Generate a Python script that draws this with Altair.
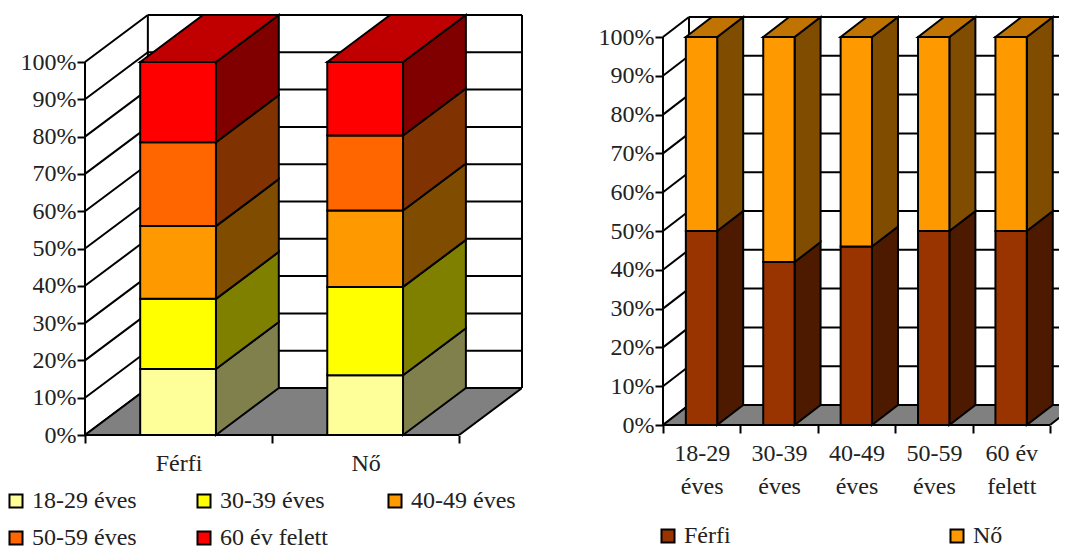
import json
import numpy as np
import pandas as pd
import altair as alt

FONT = "Liberation Serif"
TEXT = "#222222"
FS = 24

ticks_pct = [i / 10 for i in range(11)]

# left chart
left_cats = ["Férfi", "Nő"]
age_groups = ["18-29 éves", "30-39 éves", "40-49 éves", "50-59 éves", "60 év felett"]
ferfi_shares = [0.177, 0.188, 0.195, 0.225, 0.215]
no_shares = [0.16, 0.237, 0.205, 0.201, 0.197]
left_front = ["#FFFF99", "#FFFF00", "#FF9900", "#FF6600", "#FF0000"]
left_side = ["#80804D", "#808000", "#804D00", "#803300", "#800000"]
left_top = "#C00000"

# right chart
right_cats = ["18-29|éves", "30-39|éves", "40-49|éves", "50-59|éves", "60 év|felett"]
sex_groups = ["Férfi", "Nő"]
male_by_age = [0.50, 0.42, 0.46, 0.50, 0.50]
female_by_age = [0.50, 0.58, 0.54, 0.50, 0.50]
right_front = ["#993300", "#FF9900"]
right_side = ["#4D1A00", "#804D00"]
right_top = "#C07300"

STROKE = 2
GAP = 0.295
BAR = 0.405


def skew_rows(x0, x1, base, dx, dy, fid, fill):
    return [
        dict(x=x0, y=base, y2=base, fid=fid, shade=fill),
        dict(x=x0 + dx, y=base + dy, y2=base, fid=fid, shade=fill),
        dict(x=x1, y=base + dy, y2=base, fid=fid, shade=fill),
        dict(x=x1 + dx, y=base + dy, y2=base + dy, fid=fid, shade=fill),
    ]


def panel(cats, series, shares, front, side, top, dx, dy, xmax, width, height,
          ymax, right_wall, legend):
    xs = alt.Scale(domain=[0, xmax], nice=False, zero=False)
    ys = alt.Scale(domain=[0, ymax], nice=False, zero=False)
    n = len(cats)
    wall_end = min(n + dx, xmax)

    lines = []
    for t in ticks_pct:
        lines.append(dict(a=0, b=dx, c=t, d=t + dy))
        lines.append(dict(a=dx, b=wall_end, c=t + dy, d=t + dy))
    lines.append(dict(a=0, b=0, c=0, d=1))
    lines.append(dict(a=dx, b=dx, c=dy, d=1 + dy))
    if right_wall:
        lines.append(dict(a=n + dx, b=n + dx, c=dy, d=1 + dy))

    label_map = json.dumps(cats, ensure_ascii=False)
    axis_values = [i / 2 for i in range(2 * n + 1)]
    x_axis = alt.Axis(
        values=axis_values, title=None, domain=False, grid=False,
        labelExpr=f"datum.value % 1 == 0 ? '' : split({label_map}[floor(datum.value)], '|')",
        tickOpacity={"condition": {"test": "datum.value % 1 != 0", "value": 0}, "value": 1},
        tickSize=8, tickWidth=STROKE, tickColor="black",
        labelFont=FONT, labelFontSize=FS, labelColor=TEXT, labelPadding=8,
        labelOverlap=False, labelBound=False, labelFlush=False, labelLineHeight=33,
    )
    y_axis = alt.Axis(
        values=ticks_pct, format=".0%", title=None, domain=False, grid=False,
        tickSize=8, tickWidth=STROKE, tickColor="black",
        labelFont=FONT, labelFontSize=FS, labelColor=TEXT, labelPadding=1,
    )
    grid = alt.Chart(pd.DataFrame(lines)).mark_rule(color="black", strokeWidth=STROKE).encode(
        x=alt.X("a:Q", scale=xs, axis=x_axis),
        x2="b:Q",
        y=alt.Y("c:Q", scale=ys, axis=y_axis),
        y2="d:Q",
    )

    fronts, sides, tops = [], [], []
    floor = skew_rows(0, n, 0, dx, dy, "floor", "#808080")
    for i in range(n):
        x0 = i + GAP
        x1 = x0 + BAR
        lo = 0.0
        for j, name in enumerate(series):
            hi = lo + shares[j][i]
            fronts.append(dict(x0=x0, x1=x1, lo=lo, hi=hi, series=name))
            fid = f"s{i}-{j}"
            sides.append(dict(x=x1, y=lo, y2=hi, fid=fid, shade=side[j]))
            sides.append(dict(x=x1 + dx, y=lo + dy, y2=hi + dy, fid=fid, shade=side[j]))
            lo = hi
        tops += skew_rows(x0, x1, lo, dx, dy, f"t{i}", top)

    def area_layer(rows, clip=False):
        return alt.Chart(pd.DataFrame(rows)).mark_area(
            stroke="black", strokeWidth=STROKE, clip=clip
        ).encode(
            x=alt.X("x:Q", scale=xs, axis=x_axis),
            y=alt.Y("y:Q", scale=ys, axis=y_axis, stack=None),
            y2="y2:Q",
            fill=alt.Fill("shade:N", scale=None),
            detail="fid:N",
        )

    floor_edge = alt.Chart(pd.DataFrame([dict(a=0, b=n, c=0, d=0)])).mark_rule(
        color="black", strokeWidth=STROKE
    ).encode(
        x=alt.X("a:Q", scale=xs, axis=x_axis),
        x2="b:Q",
        y=alt.Y("c:Q", scale=ys, axis=y_axis),
        y2="d:Q",
    )

    front_layer = alt.Chart(pd.DataFrame(fronts)).mark_rect(
        stroke="black", strokeWidth=STROKE
    ).encode(
        x=alt.X("x0:Q", scale=xs, axis=x_axis),
        x2="x1:Q",
        y=alt.Y("lo:Q", scale=ys, axis=y_axis),
        y2="hi:Q",
        fill=alt.Fill("series:N", scale=alt.Scale(domain=series, range=front),
                      sort=series, legend=legend),
    )

    return alt.layer(
        grid, area_layer(floor, clip=True), floor_edge, area_layer(sides), area_layer(tops), front_layer
    ).resolve_scale(fill="independent").properties(width=width, height=height)


def make_legend(columns, col_pad, x, y):
    return alt.Legend(
        title=None, orient="none", legendX=x, legendY=y, columns=columns,
        direction="horizontal",
        columnPadding=col_pad, rowPadding=13, symbolType="square", symbolSize=170,
        symbolStrokeColor="black", symbolStrokeWidth=2, symbolOffset=0,
        labelFont=FONT, labelFontSize=FS, labelColor=TEXT, labelLimit=300, labelOffset=4,
        padding=0,
    )


left_shares = [[a, b] for a, b in zip(ferfi_shares, no_shares)]
left = panel(
    left_cats, age_groups, left_shares, left_front, left_side, left_top,
    dx=63 / 187.5, dy=47 / 373, xmax=2 + 63 / 187.5, width=437, height=420,
    ymax=1 + 47 / 373, right_wall=True, legend=make_legend(3, 55, -81, 474),
)

right = panel(
    right_cats, sex_groups, [male_by_age, female_by_age], right_front, right_side, right_top,
    dx=26 / 77.4, dy=20 / 388, xmax=396 / 77.4, width=396, height=410,
    ymax=410 / 388, right_wall=False, legend=make_legend(2, 214, -7, 509),
)

chart = alt.hconcat(left, right, spacing=75).resolve_scale(fill="independent").properties(
    padding={"left": -4, "top": 3, "right": 0, "bottom": 0}, background="white"
).configure_view(strokeWidth=0)

chart.save("out.html", embed_options={"renderer": "svg", "actions": False})
